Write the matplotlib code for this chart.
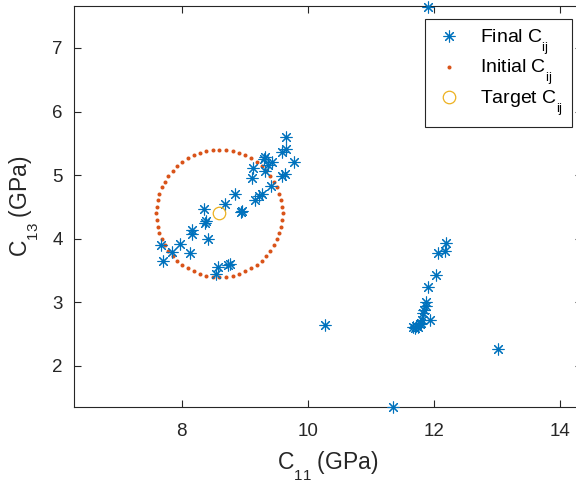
import numpy as np
import matplotlib
matplotlib.use("Agg")
import matplotlib.pyplot as plt
from matplotlib.lines import Line2D
import matplotlib._mathtext as mathtext_engine

plt.rcParams["font.family"] = ["Liberation Sans", "DejaVu Sans"]
plt.rcParams["mathtext.fontset"] = "custom"
plt.rcParams["mathtext.rm"] = "Liberation Sans"

# Lower, smaller subscripts (TeX-interpreter look)
mathtext_engine.FontConstantsBase.sub1 = 0.9
mathtext_engine.FontConstantsBase.sub2 = 0.9
mathtext_engine.FontConstantsBase.script_space = 0.0
mathtext_engine.SHRINK_FACTOR = 0.66

# Final (optimised) stiffness pairs: C11, C13 in GPa
final_c11 = [7.68, 7.84, 7.70, 7.97, 8.13, 8.17, 8.17, 8.42, 8.37, 8.39, 8.36,
             8.58, 8.54, 8.76, 8.74, 8.69, 8.84, 8.95, 8.94,
             9.17, 9.22, 9.28, 9.41, 9.12, 9.32, 9.13, 9.37, 9.43, 9.31, 9.32,
             9.59, 9.64, 9.78, 9.59, 9.65, 9.66,
             10.28,
             11.67, 11.70, 11.72, 11.75, 11.78, 11.79, 11.81, 11.94, 11.83, 11.85,
             11.87, 11.88, 11.91, 12.04, 12.06, 12.17, 12.20,
             13.01, 11.36, 11.91]
final_c13 = [3.90, 3.79, 3.65, 3.91, 3.77, 4.08, 4.14, 3.99, 4.25, 4.28, 4.47,
             3.56, 3.45, 3.60, 3.58, 4.54, 4.70, 4.44, 4.42,
             4.61, 4.68, 4.71, 4.83, 4.95, 5.07, 5.12, 5.16, 5.20, 5.26, 5.29,
             4.98, 5.02, 5.21, 5.36, 5.41, 5.60,
             2.64,
             2.61, 2.59, 2.63, 2.62, 2.66, 2.68, 2.72, 2.73, 2.84, 2.88,
             2.94, 3.01, 3.24, 3.43, 3.77, 3.80, 3.93,
             2.27, 1.35, 7.65]

# Target stiffness pair and the ring of initial guesses around it
target_c11 = [8.6]
target_c13 = [4.4]
initial_radius = 1.0
initial_count = 60

theta = np.linspace(0, 2 * np.pi, initial_count, endpoint=False)
initial_c11 = target_c11[0] + initial_radius * np.cos(theta)
initial_c13 = target_c13[0] + initial_radius * np.sin(theta)

blue = "#0072BD"
orange = "#D95319"
yellow = "#EDB120"
axis_col = "#262626"

fig = plt.figure(figsize=(5.76, 4.87), dpi=100)
ax = fig.add_axes([74 / 576, 1 - 407.3 / 487, (582 - 74) / 576, (407.3 - 6) / 487])

asterisk = (8, 2, 0)
ax.plot(final_c11, final_c13, linestyle="none", marker=asterisk, markersize=8.5,
        markeredgewidth=0.8, color=blue, clip_on=False, zorder=3)
ax.plot(initial_c11, initial_c13, linestyle="none", marker="o", markersize=2.9,
        markeredgewidth=0, color=orange, zorder=2)
ax.plot(target_c11, target_c13, linestyle="none", marker="o", markersize=9,
        markerfacecolor="none", markeredgewidth=0.9, color=yellow, zorder=4)

ax.set_xlim(6.293, 14.35)
ax.set_ylim(1.35, 7.66)
ax.set_xticks([8, 10, 12, 14])
ax.set_yticks([2, 3, 4, 5, 6, 7])

for s in ax.spines.values():
    s.set_color(axis_col)
    s.set_linewidth(0.8)
ax.tick_params(direction="in", length=5, width=0.8, colors=axis_col,
               labelsize=13.5, top=True, right=True)
ax.tick_params(axis="x", pad=11)
ax.tick_params(axis="y", pad=8)

ax.set_xlabel(r"$\mathregular{C_{11}}$ (GPa)", fontsize=16.5, color=axis_col, labelpad=7)
ax.set_ylabel(r"$\mathregular{C_{13}}$ (GPa)", fontsize=16.5, color=axis_col, labelpad=8)

handles = [
    Line2D([], [], linestyle="none", marker=asterisk, markersize=8.5,
           markeredgewidth=0.8, color=blue),
    Line2D([], [], linestyle="none", marker="o", markersize=2.9,
           markeredgewidth=0, color=orange),
    Line2D([], [], linestyle="none", marker="o", markersize=9,
           markerfacecolor="none", markeredgewidth=0.9, color=yellow),
]
labels = [r"Final $\mathregular{C_{ij}}$", r"Initial $\mathregular{C_{ij}}$",
          r"Target $\mathregular{C_{ij}}$"]
leg = ax.legend(handles, labels, loc="upper right",
                bbox_to_anchor=(572 / 576, 1 - 19 / 487),
                bbox_transform=fig.transFigure, borderaxespad=0,
                fontsize=14, frameon=True, fancybox=False, framealpha=1,
                edgecolor=axis_col, handlelength=1.6, handletextpad=0.8,
                labelspacing=0.05, borderpad=0.45)
leg.get_frame().set_linewidth(0.8)

fig.savefig("out.png", dpi=100)
